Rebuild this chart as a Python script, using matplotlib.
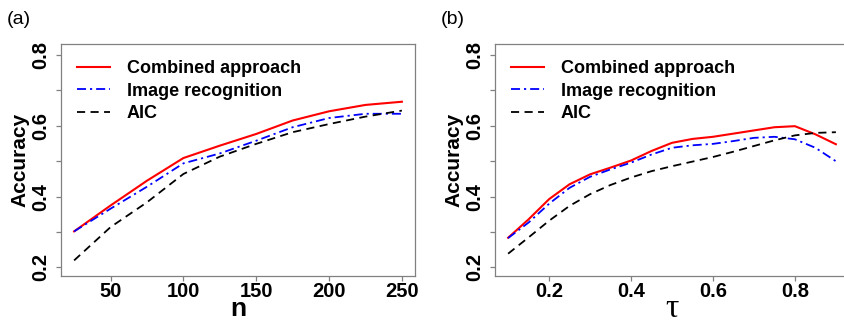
import numpy as np
import matplotlib
matplotlib.use("Agg")
import matplotlib.pyplot as plt

# ---- data ----
n_vals = [25, 50, 75, 100, 125, 150, 175, 200, 225, 250]
combined_n = [0.302, 0.375, 0.445, 0.509, 0.544, 0.577, 0.615, 0.641, 0.659, 0.668]
image_n = [0.302, 0.366, 0.428, 0.494, 0.522, 0.558, 0.596, 0.622, 0.634, 0.634]
aic_n = [0.220, 0.314, 0.384, 0.464, 0.513, 0.549, 0.582, 0.605, 0.626, 0.643]

tau_vals = [0.10, 0.15, 0.20, 0.25, 0.30, 0.35, 0.40, 0.45, 0.50,
            0.55, 0.60, 0.65, 0.70, 0.75, 0.80, 0.85, 0.90]
combined_tau = [0.284, 0.336, 0.393, 0.435, 0.463, 0.482, 0.502, 0.529, 0.552,
                0.563, 0.569, 0.578, 0.587, 0.596, 0.599, 0.576, 0.548]
image_tau = [0.283, 0.327, 0.380, 0.425, 0.456, 0.477, 0.496, 0.519, 0.538,
             0.545, 0.549, 0.557, 0.566, 0.569, 0.562, 0.538, 0.500]
aic_tau = [0.239, 0.285, 0.332, 0.374, 0.407, 0.433, 0.454, 0.472, 0.486,
           0.499, 0.512, 0.527, 0.543, 0.559, 0.573, 0.580, 0.582]

labels = ["Combined approach", "Image recognition", "AIC"]
n_ticks = [50, 100, 150, 200, 250]
tau_ticks = [0.2, 0.4, 0.6, 0.8]
y_ticks = [0.2, 0.3, 0.4, 0.5, 0.6, 0.7, 0.8]
y_ticklabels = ["0.2", "", "0.4", "", "0.6", "", "0.8"]

plt.rcParams["font.family"] = ["Liberation Sans", "DejaVu Sans"]

W, H = 845, 324
fig = plt.figure(figsize=(W / 100, H / 100), dpi=100)


def px_axes(x0, x1, ytop, ybot):
    return fig.add_axes([x0 / W, (H - ybot) / H, (x1 - x0) / W, (ybot - ytop) / H])


def style_panel(ax, x, series, xlim, xticks, xticklabels, xlabel, xlabel_font, xpad):
    styles = [
        dict(color="#ff0000", lw=1.5, ls="-"),
        dict(color="#0000ff", lw=1.3, ls=(0, (5, 2.2, 1.2, 2.2))),
        dict(color="#000000", lw=1.3, ls=(0, (4.5, 3))),
    ]
    for y, lab, st in zip(series, labels, styles):
        ax.plot(x, y, label=lab, **st)
    ax.set_xlim(*xlim)
    ax.set_ylim(0.176, 0.831)
    ax.set_xticks(xticks)
    ax.set_xticklabels(xticklabels, fontsize=14.5, fontweight="bold")
    ax.set_yticks(y_ticks)
    ax.set_yticklabels(y_ticklabels, fontsize=14.5, fontweight="bold",
                       rotation=90, va="center")
    for sp in ax.spines.values():
        sp.set_color("#808080")
        sp.set_linewidth(0.9)
    ax.tick_params(direction="out", length=3.6, width=0.9, color="#808080")
    ax.tick_params(axis="x", pad=1)
    ax.tick_params(axis="y", pad=4)
    ax.set_ylabel("Accuracy", fontsize=15, fontweight="bold", labelpad=1.5)
    ax.set_xlabel(xlabel, labelpad=xpad, **xlabel_font)
    ax.legend(loc="upper left", bbox_to_anchor=(0.045, 0.93), frameon=False,
              borderpad=0, borderaxespad=0, handlelength=1.85,
              handletextpad=0.9, labelspacing=0.3,
              prop=dict(size=13, weight="bold"))


ax1 = px_axes(61, 415, 44, 276)
style_panel(ax1, n_vals, [combined_n, image_n, aic_n], (16, 259),
            n_ticks, [str(t) for t in n_ticks], "n",
            dict(fontsize=19, fontweight="bold"), -3)

ax2 = px_axes(495, 849, 44, 276)
style_panel(ax2, tau_vals, [combined_tau, image_tau, aic_tau], (0.068, 0.932),
            tau_ticks, [f"{t:.1f}" for t in tau_ticks], "\u03c4",
            dict(fontsize=24, family=["Liberation Serif", "DejaVu Serif"]), -6)

fig.text(7 / W, 1 - 19 / H, "(a)", fontsize=14, va="center", ha="left")
fig.text(441 / W, 1 - 19 / H, "(b)", fontsize=14, va="center", ha="left")

fig.savefig("out.png", dpi=100)
